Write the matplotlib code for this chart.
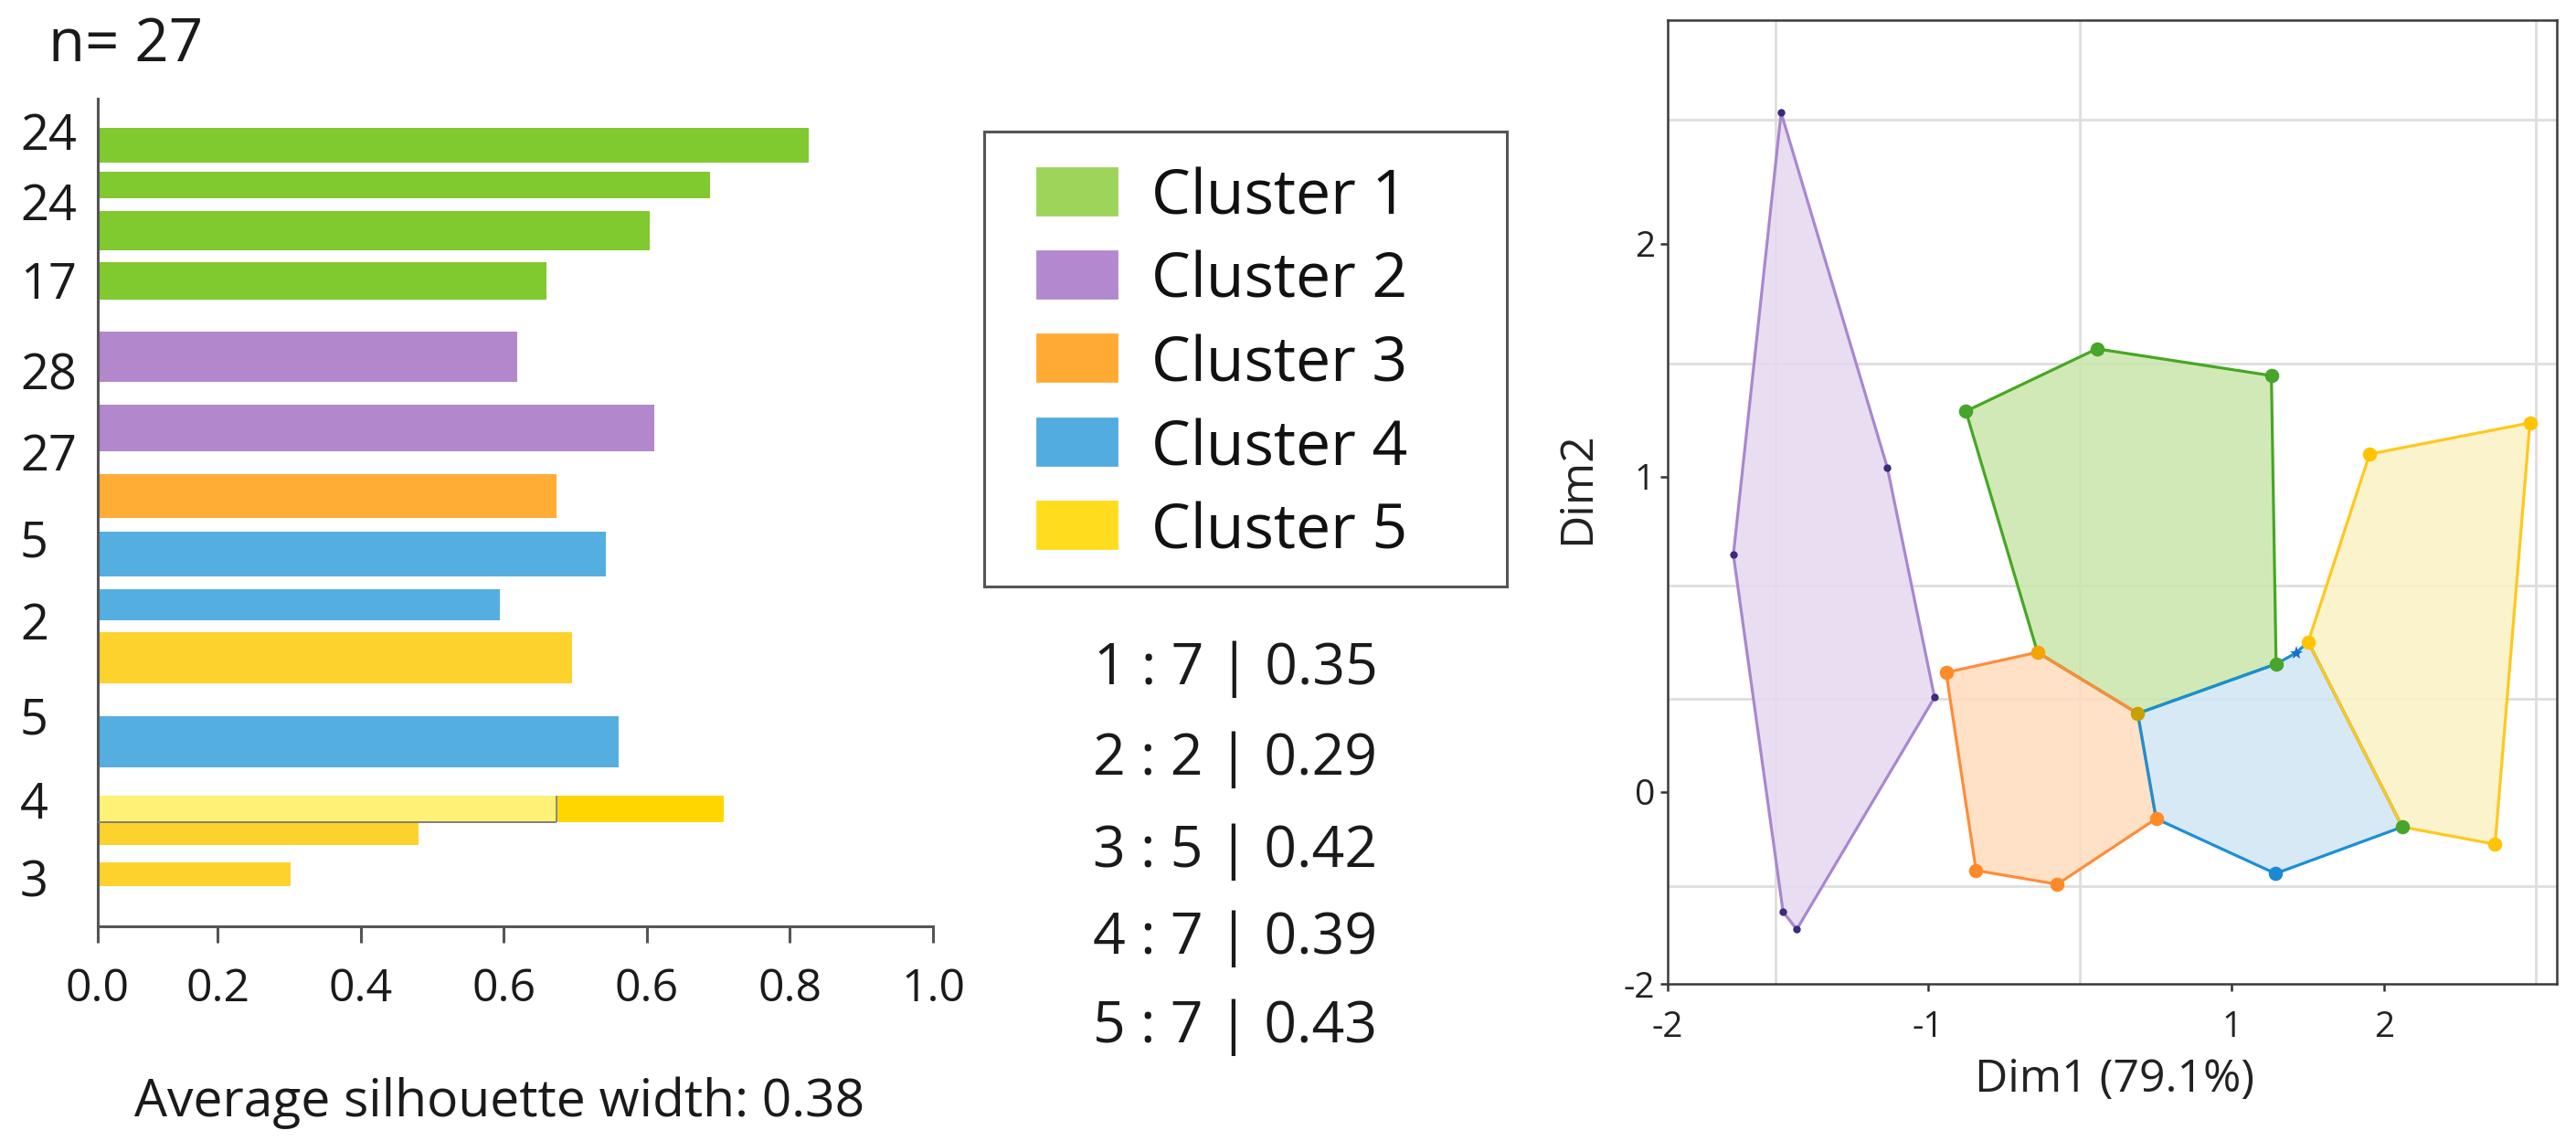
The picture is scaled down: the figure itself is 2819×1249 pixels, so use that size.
import matplotlib
matplotlib.use("Agg")
import matplotlib.pyplot as plt
from matplotlib.patches import Polygon, Rectangle

plt.rcParams['font.family'] = ['Open Sans', 'DejaVu Sans']

# ---------------- data ----------------
N_TOTAL = 27
AVG_WIDTH = 0.38

# silhouette bars (top to bottom); value = end of bar on the drawn axis
BAR_CLUSTER = [1, 1, 1, 1, 2, 2, 3, 4, 4, 5, 4, 5, 5, 5]
BAR_VALUE = [1.026, 0.888, 0.804, 0.660, 0.619, 0.810, 0.674,
             0.743, 0.594, 0.695, 0.760, 0.907, 0.481, 0.302]
SPLIT_BAR_INDEX = 11
SPLIT_BAR_INNER = 0.674
ROW_LABELS = ["24", "24", "17", "28", "27", "5", "2", "5", "4", "3"]

XTICK_LABELS = ["0.0", "0.2", "0.4", "0.6", "0.6", "0.8", "1.0"]

LEGEND_LABELS = ["Cluster 1", "Cluster 2", "Cluster 3", "Cluster 4", "Cluster 5"]
CLUSTER_ID = [1, 2, 3, 4, 5]
CLUSTER_SIZE = [7, 2, 5, 7, 7]
CLUSTER_SIL = [0.35, 0.29, 0.42, 0.39, 0.43]

# cluster plot points (Dim1, Dim2 on the drawn grid)
POINTS = {
    "P1": (-1.964, 2.155), "P2": (-1.265, 1.028), "P3": (-0.955, 0.300),
    "P4": (-1.861, -0.436), "P5": (-1.951, -0.381), "P6": (-2.278, 0.753),
    "G1": (-0.749, 1.208), "G2": (0.112, 1.406), "G3": (1.260, 1.321),
    "G4": (1.291, 0.406), "J1": (0.381, 0.249), "J2": (-0.278, 0.443),
    "O1": (-0.879, 0.379), "O2": (0.502, -0.085), "O3": (-0.148, -0.293),
    "O4": (-0.682, -0.249), "B1": (1.287, -0.259), "S1": (1.422, 0.441),
    "Y1": (1.502, 0.476), "Y2": (1.906, 1.072), "Y3": (2.960, 1.171),
    "Y4": (2.731, -0.166), "J3": (2.121, -0.111),
}
HULLS = {
    2: ["P1", "P2", "P3", "P4", "P5", "P6"],
    1: ["G1", "G2", "G3", "G4", "J1", "J2"],
    3: ["O1", "J2", "J1", "O2", "O3", "O4"],
    4: ["J1", "G4", "S1", "Y1", "J3", "B1", "O2"],
    5: ["Y1", "Y2", "Y3", "Y4", "J3"],
}
POINT_KIND = {
    "P1": "purple", "P2": "purple", "P3": "purple", "P4": "purple",
    "P5": "purple", "P6": "purple",
    "G1": "green", "G2": "green", "G3": "green", "G4": "green", "J3": "green",
    "J1": "olive", "J2": "amber",
    "O1": "orange", "O2": "orange", "O3": "orange", "O4": "orange",
    "B1": "blue", "S1": "star",
    "Y1": "yellow", "Y2": "yellow", "Y3": "yellow", "Y4": "yellow",
}

# ---------------- styles ----------------
BAR_COLORS = {1: "#80c92e", 2: "#b287cc", 3: "#ffad34", 4: "#55aee0", 5: "#fed22c"}
SPLIT_LIGHT = "#fff176"
SPLIT_DARK = "#ffd600"
LEG_COLORS = {1: "#9ed45a", 2: "#b388cf", 3: "#ffaa33", 4: "#52ace0", 5: "#ffdc1e"}
HULL_EDGE = {1: "#45a823", 2: "#a987cf", 3: "#ff8c3a", 4: "#1a8fd6", 5: "#ffc81e"}
HULL_FILL = {1: "#c9e6ab", 2: "#e6d9ef", 3: "#fedcbc", 4: "#d0e6f4", 5: "#fbf2c4"}
MARKER_STYLE = {
    "purple": ("#3b2a80", "o", 3.0), "green": ("#46a52a", "o", 5.6),
    "olive": ("#c8a000", "o", 5.6), "amber": ("#f5a300", "o", 5.6),
    "orange": ("#ff8a2a", "o", 5.6), "blue": ("#1a8ad4", "o", 5.6),
    "star": ("#1a6fc4", "*", 5.5), "yellow": ("#ffc400", "o", 5.6),
}

W, H, DPI = 2819, 1249, 200
fig = plt.figure(figsize=(W / DPI, H / DPI), dpi=DPI)
fig.patch.set_facecolor("white")


def px_axes(l, t, r, b):
    return fig.add_axes([l / W, 1 - b / H, (r - l) / W, (b - t) / H])


# layout of the silhouette panel (rows in 100-px units from the top)
X0 = 0.0326
XTICK_POS = [X0, 0.2, 0.4, 0.6, 0.8, 1.0, 1.2]
BAR_TOP = [0.317, 0.795, 1.228, 1.79, 2.548, 3.348, 4.106, 4.74, 5.365,
           5.838, 6.756, 7.63, 7.924, 8.357]
BAR_BOT = [0.70, 1.094, 1.664, 2.20, 3.103, 3.857, 4.595, 5.23, 5.713,
           6.395, 7.318, 7.92, 8.165, 8.62]
ROW_LABEL_POS = [0.35, 1.12, 1.98, 2.975, 3.857, 4.80, 5.71, 6.74, 7.67, 8.52]

ax = px_axes(107, 108, 1021, 1014)
for i, (c, v) in enumerate(zip(BAR_CLUSTER, BAR_VALUE)):
    yc = (BAR_TOP[i] + BAR_BOT[i]) / 2
    hgt = BAR_BOT[i] - BAR_TOP[i]
    if i == SPLIT_BAR_INDEX:
        ax.barh(yc, SPLIT_BAR_INNER - X0, height=hgt, left=X0, color=SPLIT_LIGHT,
                edgecolor="none", zorder=2)
        ax.barh(yc, v - SPLIT_BAR_INNER, height=hgt, left=SPLIT_BAR_INNER,
                color=SPLIT_DARK, edgecolor="none", zorder=2)
        ax.hlines(BAR_BOT[i], X0, SPLIT_BAR_INNER, color="#7d7d78",
                  linewidth=0.7, zorder=3)
        ax.vlines(SPLIT_BAR_INNER, BAR_TOP[i], BAR_BOT[i], color="#8a8a84",
                  linewidth=0.7, zorder=3)
    else:
        ax.barh(yc, v - X0, height=hgt, left=X0, color=BAR_COLORS[c],
                edgecolor="none", zorder=2)
ax.set_xlim(X0, 1.2)
ax.set_ylim(9.06, 0)
for s in ["top", "right"]:
    ax.spines[s].set_visible(False)
for s in ["left", "bottom"]:
    ax.spines[s].set_color("#555555")
    ax.spines[s].set_linewidth(1.1)
ax.set_xticks(XTICK_POS)
ax.set_xticklabels(XTICK_LABELS)
ax.tick_params(axis="x", length=6.5, width=1.1, color="#555555", labelsize=18,
               pad=9.5, labelcolor="#1a1a1a")
ax.set_yticks(ROW_LABEL_POS)
ax.set_yticklabels(ROW_LABELS)
ax.tick_params(axis="y", length=0, labelsize=19.5, pad=30.6, labelcolor="#1a1a1a")
for lab in ax.get_yticklabels():
    lab.set_horizontalalignment("left")

fig.text(53 / W, 1 - 67 / H, "n= %d" % N_TOTAL, fontsize=23.5, va="baseline",
         color="#1a1a1a")
fig.text(547 / W, 1 - 1222 / H, "Average silhouette width: %.2f" % AVG_WIDTH,
         fontsize=20.5, ha="center", va="baseline", color="#1a1a1a")

# ---------------- legend ----------------
lg = px_axes(1077, 144, 1649, 642)
lg.set_xlim(1077, 1649)
lg.set_ylim(642, 144)
lg.set_xticks([])
lg.set_yticks([])
for s in lg.spines.values():
    s.set_color("#555555")
    s.set_linewidth(1.1)
LEG_BASE = [234.6, 325.5, 417, 509, 600.5]
for cid, lab, yb in zip(CLUSTER_ID, LEGEND_LABELS, LEG_BASE):
    lg.add_patch(Rectangle((1135, yb - 51), 87, 51, color=LEG_COLORS[cid]))
    lg.text(1259.5, yb, lab, fontsize=24.5, va="baseline", ha="left",
            color="#111111")

STAT_BASE = [749, 848, 949, 1044, 1141]
for cid, n, s, yb in zip(CLUSTER_ID, CLUSTER_SIZE, CLUSTER_SIL, STAT_BASE):
    fig.text(1352 / W, 1 - yb / H, "%d : %d | %.2f" % (cid, n, s),
             fontsize=22.5, ha="center", va="baseline", color="#1a1a1a")

# ---------------- cluster plot ----------------
GRID_X = [-2, -1, 0, 1, 2, 3]
GRID_Y = [2.133, 1.739, 1.359, 1.0, 0.655, 0.296, 0.0, -0.299]
XT_POS = [-2.71, -1, 1, 2]
XT_LAB = ["-2", "-1", "1", "2"]
YT_POS = [1.739, 1.0, 0.0, -0.609]
YT_LAB = ["2", "1", "0", "-2"]

cx = px_axes(1825, 22, 2798, 1077)
cx.set_xlim(-2.71, 3.137)
cx.set_ylim(-0.609, 2.449)
cx.set_xticks(GRID_X, minor=True)
cx.set_yticks(GRID_Y, minor=True)
cx.grid(True, which="minor", color="#dedede", linewidth=1.0, zorder=0)
cx.set_axisbelow(True)
cx.tick_params(which="minor", length=0)
cx.set_xticks(XT_POS)
cx.set_xticklabels(XT_LAB)
cx.set_yticks(YT_POS)
cx.set_yticklabels(YT_LAB)
cx.tick_params(which="major", length=3, width=0.9, color="#333333", labelsize=14,
               labelcolor="#222222")
cx.tick_params(axis="x", pad=7.5)
cx.tick_params(axis="y", pad=2)
for s in cx.spines.values():
    s.set_color("#3a3a3a")
    s.set_linewidth(0.9)

for cid in [2, 1, 3, 4, 5]:
    verts = [POINTS[k] for k in HULLS[cid]]
    cx.add_patch(Polygon(verts, closed=True, facecolor=HULL_FILL[cid],
                         alpha=0.85, edgecolor="none", zorder=2))
for cid in [2, 1, 3, 4, 5]:
    verts = [POINTS[k] for k in HULLS[cid]]
    cx.add_patch(Polygon(verts, closed=True, facecolor="none",
                         edgecolor=HULL_EDGE[cid], linewidth=1.15, zorder=3))
for name, (px, py) in POINTS.items():
    col, mk, ms = MARKER_STYLE[POINT_KIND[name]]
    cx.plot([px], [py], marker=mk, markersize=ms, color=col,
            markeredgewidth=0, linestyle="none", zorder=4)

cx.set_xlabel("Dim1 (79.1%)", fontsize=18, color="#222222")
cx.xaxis.set_label_coords(0.5026, (1077 - 1195) / 1055)
cx.xaxis.label.set_verticalalignment("baseline")
cx.set_ylabel("Dim2", fontsize=18, color="#222222")
cx.yaxis.set_label_coords((1739.5 - 1825) / 973, (1077 - 534) / 1055)
cx.yaxis.label.set_verticalalignment("baseline")

fig.savefig("out.png", dpi=DPI, facecolor="white")
